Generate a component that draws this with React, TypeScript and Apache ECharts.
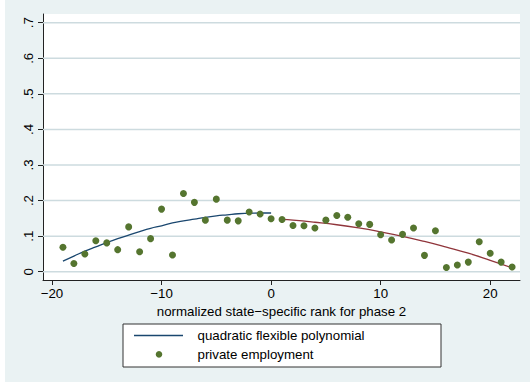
import React, { useEffect, useRef } from 'react';
import * as echarts from 'echarts';

const pointX = [-19, -18, -17, -16, -15, -14, -13, -12, -11, -10, -9, -8, -7, -6, -5, -4, -3, -2, -1, 0, 1, 2, 3, 4, 5, 6, 7, 8, 9, 10, 11, 12, 13, 14, 15, 16, 17, 18, 19, 20, 21, 22];
const pointY = [0.069, 0.023, 0.050, 0.087, 0.081, 0.062, 0.126, 0.056, 0.093, 0.176, 0.047, 0.220, 0.195, 0.145, 0.204, 0.145, 0.143, 0.168, 0.162, 0.149, 0.147, 0.130, 0.129, 0.123, 0.145, 0.158, 0.153, 0.135, 0.133, 0.104, 0.089, 0.105, 0.123, 0.046, 0.115, 0.012, 0.019, 0.027, 0.084, 0.052, 0.027, 0.013];

const leftFitX = [-19, -18, -17, -16, -15, -14, -13, -12, -11, -10, -9, -8, -7, -6, -5, -4, -3, -2, -1, 0];
const leftFitY = [0.030, 0.044, 0.058, 0.070, 0.082, 0.093, 0.103, 0.113, 0.122, 0.129, 0.137, 0.143, 0.148, 0.153, 0.157, 0.160, 0.163, 0.164, 0.165, 0.165];

const rightFitX = [1, 2, 4, 6, 8, 10, 12, 14, 16, 18, 20, 22];
const rightFitY = [0.147, 0.145, 0.139, 0.132, 0.123, 0.112, 0.0995, 0.085, 0.069, 0.052, 0.032, 0.011];

const xTicks = [-20, -10, 0, 10, 20];
const yTicks = [0, 0.1, 0.2, 0.3, 0.4, 0.5, 0.6, 0.7];

const legendLabels = ['quadratic flexible polynomial', 'private employment'];

const FONT = 'Liberation Sans, Arial, Helvetica, sans-serif';
const X_MIN = -20.82;
const X_MAX = 22.72;

export default function App() {
  const ref = useRef<HTMLDivElement>(null);

  useEffect(() => {
    document.body.style.margin = '0';
    if (!ref.current) return;
    const chart = echarts.init(ref.current, undefined, { renderer: 'svg' });

    const zip = (xs: number[], ys: number[]) => xs.map((x, i) => [x, ys[i]]);

    const gridSeries = yTicks.map((v) => ({
      type: 'line',
      name: 'gridline',
      data: [[X_MIN, v], [X_MAX, v]],
      showSymbol: false,
      silent: true,
      lineStyle: { color: '#cddbdf', width: 1.5 },
      z: 2,
    }));

    chart.setOption({
      animation: false,
      backgroundColor: '#eaf2f3',
      grid: {
        left: 43,
        top: 14,
        width: 477,
        height: 266,
        show: false,
        containLabel: false,
      },
      xAxis: {
        type: 'value',
        min: X_MIN,
        max: X_MAX,
        name: 'normalized state\u2212specific rank for phase 2',
        nameLocation: 'middle',
        nameGap: 21,
        nameTextStyle: { fontFamily: FONT, fontSize: 13.3, color: '#000' },
        axisLine: { show: true, onZero: false, lineStyle: { color: '#222', width: 1 } },
        axisTick: { show: true, length: 5, lineStyle: { color: '#222' }, customValues: xTicks },
        axisLabel: {
          customValues: xTicks,
          margin: 7,
          fontFamily: FONT,
          fontSize: 13.3,
          color: '#000',
          formatter: (v: number) => (v < 0 ? '\u2212' + Math.abs(v) : String(v)),
        },
        splitLine: { show: false },
      },
      yAxis: {
        type: 'value',
        min: -0.0233,
        max: 0.7245,
        axisLine: { show: true, onZero: false, lineStyle: { color: '#222', width: 1 } },
        axisTick: { show: true, length: 5, lineStyle: { color: '#222' }, customValues: yTicks },
        axisLabel: {
          customValues: yTicks,
          rotate: 90,
          margin: 8,
          fontFamily: FONT,
          fontSize: 13.3,
          color: '#000',
          formatter: (v: number) => (v === 0 ? '0' : v.toFixed(1).replace(/^0/, '')),
        },
        splitLine: { show: false },
      },
      series: [
        ...gridSeries,
        {
          type: 'line',
          name: legendLabels[0],
          data: zip(leftFitX, leftFitY),
          smooth: true,
          showSymbol: false,
          lineStyle: { color: '#1a476f', width: 1.3 },
          z: 3,
        },
        {
          type: 'line',
          name: 'right fit',
          data: zip(rightFitX, rightFitY),
          smooth: true,
          showSymbol: false,
          lineStyle: { color: '#90353b', width: 1.3 },
          z: 3,
        },
        {
          type: 'scatter',
          name: legendLabels[1],
          data: zip(pointX, pointY),
          symbolSize: 7,
          itemStyle: { color: '#55752f', opacity: 1 },
          z: 4,
        },
      ],
      graphic: [
        { type: 'rect', z: -10, shape: { x: 43, y: 14, width: 477, height: 266 }, style: { fill: '#ffffff' }, silent: true },
        { type: 'rect', z: -10, shape: { x: 0, y: 0, width: 5, height: 382 }, style: { fill: '#ffffff' }, silent: true },
        {
          type: 'rect',
          shape: { x: 123, y: 324, width: 318, height: 43 },
          style: { fill: '#ffffff', stroke: '#333', lineWidth: 1 },
          silent: true,
        },
        {
          type: 'line',
          shape: { x1: 134, y1: 335.5, x2: 183, y2: 335.5 },
          style: { stroke: '#1a476f', lineWidth: 1.3 },
          silent: true,
        },
        {
          type: 'circle',
          shape: { cx: 159, cy: 354.3, r: 3.3 },
          style: { fill: '#55752f' },
          silent: true,
        },
        {
          type: 'text',
          x: 197.5,
          y: 335.5,
          style: { text: legendLabels[0], fill: '#000', font: `13.3px ${FONT}`, verticalAlign: 'middle' },
          silent: true,
        },
        {
          type: 'text',
          x: 197.5,
          y: 354.5,
          style: { text: legendLabels[1], fill: '#000', font: `13.3px ${FONT}`, verticalAlign: 'middle' },
          silent: true,
        },
      ],
    });

    return () => chart.dispose();
  }, []);

  return <div ref={ref} style={{ position: 'absolute', left: 0, top: 0, width: 530, height: 382 }} />;
}
